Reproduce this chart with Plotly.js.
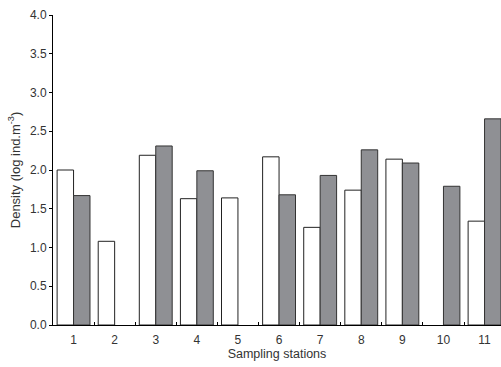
<!DOCTYPE html>
<html>
<head>
<meta charset="utf-8">
<script src="https://cdn.plot.ly/plotly-3.0.1.min.js"></script>
<style>html,body{margin:0;padding:0;background:#fff;overflow:hidden;}</style>
</head>
<body>
<div id="chart" style="width:501px;height:367px;"></div>
<script>
var stations = ['1','2','3','4','5','6','7','8','9','10','11'];
var whiteSeries = [2.00, 1.08, 2.19, 1.63, 1.64, 2.17, 1.26, 1.74, 2.14, null, 1.34];
var graySeries = [1.67, null, 2.31, 1.99, null, 1.68, 1.93, 2.26, 2.09, 1.79, 2.66];
var yTicks = [0, 0.5, 1, 1.5, 2, 2.5, 3, 3.5, 4];
var yTickText = ['0.0','0.5','1.0','1.5','2.0','2.5','3.0','3.5','4.0'];

var traces = [
  {type:'bar', x:stations, y:whiteSeries, name:'A',
   marker:{color:'#ffffff', line:{color:'#222222', width:1}}},
  {type:'bar', x:stations, y:graySeries, name:'B',
   marker:{color:'#8f9094', line:{color:'#333333', width:1}}}
];

var layout = {
  width:501, height:367,
  margin:{l:53, r:0, t:15, b:42},
  paper_bgcolor:'#fff', plot_bgcolor:'#fff',
  showlegend:false,
  barmode:'group', bargap:0.2, bargroupgap:0,
  font:{family:'Liberation Sans, Arial, sans-serif', size:12, color:'#333'},
  xaxis:{
    type:'category', range:[-0.5, 10.4],
    showline:true, linecolor:'#000', linewidth:1,
    ticks:'inside', ticklen:3, tickcolor:'#000', tickson:'boundaries',
    showgrid:false, zeroline:false,
    ticklabelstandoff:4,
    tickfont:{size:12, color:'#333'},
    title:{text:'Sampling stations', font:{size:12.5, color:'#333'}, standoff:2}
  },
  yaxis:{
    range:[0, 4], tickvals:yTicks, ticktext:yTickText,
    showline:true, linecolor:'#000', linewidth:1,
    ticks:'outside', ticklen:3, tickcolor:'#000',
    showgrid:false, zeroline:false,
    tickfont:{size:12, color:'#333'},
    title:{text:'Density (log ind.m<sup>-3</sup>)', font:{size:13, color:'#333'}, standoff:6}
  }
};

Plotly.newPlot('chart', traces, layout, {displayModeBar:false, staticPlot:true});
</script>
</body>
</html>
